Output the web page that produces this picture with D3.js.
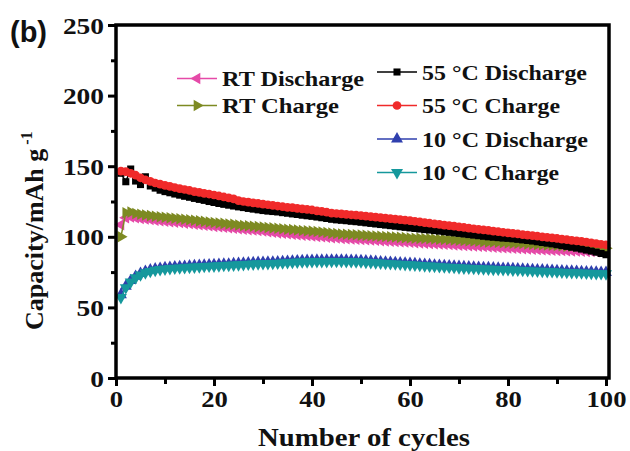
<!DOCTYPE html>
<html>
<head>
<meta charset="utf-8">
<script src="https://cdn.jsdelivr.net/npm/d3@7"></script>
<style>
  body { margin: 0; background: #fff; }
  text { font-family: "Liberation Serif", "Times New Roman", serif; font-weight: bold; }
</style>
</head>
<body>
<div id="chart"></div>
<script>
// cycle number 1..100
const cycles = d3.range(1, 101);

const rtDischarge = [
  108.5, 113.5, 114.0, 113.5, 113.0, 112.6, 112.2, 111.8, 111.4, 111.0,
  110.7, 110.4, 110.1, 109.7, 109.4, 109.0, 108.6, 108.2, 107.8, 107.4,
  107.1, 106.8, 106.4, 106.1, 105.7, 105.3, 105.1, 104.8, 104.5, 104.2,
  103.6, 103.2, 102.8, 102.5, 102.1, 101.8, 101.5, 101.2, 100.9, 100.6,
  100.3, 100.0, 99.7, 99.4, 99.1, 98.9, 98.7, 98.5, 98.3, 98.1,
  97.9, 97.7, 97.5, 97.3, 97.1, 96.9, 96.7, 96.5, 96.3, 96.1,
  95.9, 95.7, 95.5, 95.3, 95.1, 94.9, 94.7, 94.5, 94.3, 94.1,
  93.9, 93.7, 93.5, 93.3, 93.1, 92.9, 92.7, 92.5, 92.3, 92.1,
  91.9, 91.7, 91.5, 91.3, 91.2, 91.0, 90.8, 90.7, 90.5, 90.4,
  90.3, 90.1, 90.0, 89.9, 89.8, 89.7, 89.6, 89.5, 89.4, 89.3
];

const rtCharge = [
  100.0, 117.0, 117.5, 116.5, 116.0, 115.4, 115.0, 114.6, 114.2, 113.8,
  113.5, 113.1, 112.8, 112.4, 112.1, 111.7, 111.3, 110.9, 110.5, 110.1,
  109.8, 109.5, 109.1, 108.8, 108.4, 108.0, 107.8, 107.5, 107.2, 106.9,
  106.6, 106.3, 106.0, 105.7, 105.4, 105.1, 104.8, 104.5, 104.2, 104.0,
  103.7, 103.4, 103.0, 102.6, 102.3, 102.0, 101.8, 101.6, 101.4, 101.2,
  101.0, 100.8, 100.6, 100.4, 100.2, 100.0, 99.8, 99.6, 99.4, 99.2,
  99.0, 98.9, 98.8, 98.7, 98.5, 98.3, 98.2, 98.0, 97.8, 97.6,
  97.4, 97.2, 97.0, 96.8, 96.6, 96.4, 96.3, 96.1, 95.9, 95.7,
  95.5, 95.4, 95.2, 95.0, 94.8, 94.6, 94.4, 94.2, 94.0, 93.8,
  93.6, 93.4, 93.3, 93.1, 92.9, 92.7, 92.5, 92.3, 92.1, 91.9
];

const hotDischarge = [
  145.0, 139.0, 148.0, 139.5, 137.0, 142.5, 136.0, 134.5, 133.0, 132.0,
  131.2, 130.3, 129.5, 128.7, 128.0, 127.2, 126.5, 125.8, 125.0, 124.3,
  123.6, 123.0, 122.4, 121.8, 121.2, 120.7, 120.1, 119.6, 119.1, 118.6,
  118.2, 117.9, 117.6, 117.1, 116.7, 116.2, 115.8, 115.3, 114.9, 114.5,
  114.0, 113.5, 113.0, 112.4, 112.0, 111.7, 111.4, 111.0, 110.7, 110.3,
  109.9, 109.5, 109.1, 108.7, 108.3, 107.9, 107.5, 107.1, 106.7, 106.3,
  105.9, 105.5, 105.1, 104.8, 104.4, 104.0, 103.6, 103.2, 102.8, 102.4,
  102.0, 101.6, 101.2, 100.8, 100.4, 100.0, 99.7, 99.4, 99.1, 98.9,
  98.6, 98.2, 97.8, 97.4, 97.0, 96.5, 96.0, 95.5, 95.0, 94.4,
  93.8, 93.2, 92.6, 92.0, 91.3, 90.6, 89.9, 89.1, 88.2, 87.3
];

const hotCharge = [
  146.5, 146.2, 145.0, 143.6, 141.8, 140.4, 139.2, 138.1, 137.3, 136.4,
  135.7, 134.9, 134.1, 133.5, 132.8, 132.0, 131.5, 130.8, 130.3, 129.6,
  128.9, 128.2, 127.6, 126.9, 125.6, 125.0, 124.6, 124.0, 123.6, 123.1,
  122.7, 122.2, 121.8, 121.3, 120.9, 120.6, 120.1, 119.8, 119.4, 119.0,
  118.4, 118.0, 117.4, 116.8, 116.5, 116.2, 115.9, 115.6, 115.3, 115.0,
  114.6, 114.3, 113.9, 113.6, 113.2, 112.9, 112.5, 112.2, 111.8, 111.4,
  111.0, 110.6, 110.1, 109.6, 109.2, 108.8, 108.3, 107.9, 107.5, 107.0,
  106.6, 106.2, 105.7, 105.3, 104.9, 104.5, 104.0, 103.6, 103.2, 102.8,
  102.4, 102.0, 101.6, 101.2, 100.8, 100.4, 100.0, 99.6, 99.2, 98.8,
  98.4, 98.0, 97.5, 97.1, 96.7, 96.2, 95.7, 95.2, 94.7, 94.2
];

const coldDischarge = [
  59.0, 65.0, 69.0, 72.0, 74.0, 75.5, 76.5, 77.2, 77.7, 78.1,
  78.4, 78.7, 78.9, 79.1, 79.3, 79.5, 79.7, 79.9, 80.1, 80.2,
  80.4, 80.6, 80.7, 80.9, 81.1, 81.3, 81.5, 81.6, 81.8, 81.9,
  82.0, 82.1, 82.2, 82.4, 82.6, 82.8, 83.0, 83.1, 83.2, 83.3,
  83.4, 83.4, 83.4, 83.5, 83.5, 83.5, 83.4, 83.3, 83.2, 83.1,
  82.9, 82.7, 82.5, 82.3, 82.1, 81.9, 81.7, 81.5, 81.3, 81.1,
  80.9, 80.6, 80.4, 80.2, 80.0, 79.8, 79.6, 79.4, 79.2, 79.0,
  78.8, 78.7, 78.5, 78.4, 78.2, 78.1, 77.9, 77.8, 77.7, 77.6,
  77.4, 77.3, 77.1, 76.9, 76.8, 76.6, 76.5, 76.3, 76.2, 76.0,
  75.9, 75.7, 75.6, 75.5, 75.3, 75.2, 75.1, 74.9, 74.8, 74.7
];

const coldCharge = [
  57.0, 64.0, 68.0, 71.0, 73.0, 74.5, 75.5, 76.3, 76.8, 77.2,
  77.5, 77.8, 78.0, 78.2, 78.4, 78.6, 78.8, 79.0, 79.2, 79.3,
  79.5, 79.7, 79.8, 80.0, 80.2, 80.4, 80.6, 80.7, 80.9, 81.0,
  81.1, 81.2, 81.3, 81.5, 81.7, 81.9, 82.1, 82.2, 82.3, 82.4,
  82.5, 82.5, 82.5, 82.6, 82.6, 82.6, 82.5, 82.4, 82.3, 82.2,
  82.0, 81.8, 81.6, 81.4, 81.2, 81.0, 80.8, 80.6, 80.4, 80.2,
  80.0, 79.7, 79.5, 79.3, 79.1, 78.9, 78.7, 78.5, 78.3, 78.1,
  77.9, 77.8, 77.6, 77.5, 77.3, 77.2, 77.0, 76.9, 76.8, 76.7,
  76.5, 76.4, 76.2, 76.0, 75.9, 75.7, 75.6, 75.4, 75.3, 75.1,
  75.0, 74.8, 74.7, 74.6, 74.4, 74.3, 74.2, 74.0, 73.9, 73.8
];

const xTicks = [0, 20, 40, 60, 80, 100];
const yTicks = [0, 50, 100, 150, 200, 250];

const series = [
  { name: "RT Discharge", values: rtDischarge, color: "#e54aa8", shape: "left" },
  { name: "RT Charge", values: rtCharge, color: "#7d8a22", shape: "right" },
  { name: "55 °C Discharge", values: hotDischarge, color: "#000000", shape: "square" },
  { name: "55 °C Charge", values: hotCharge, color: "#f02a2a", shape: "circle" },
  { name: "10 °C Discharge", values: coldDischarge, color: "#2f3fae", shape: "up" },
  { name: "10 °C Charge", values: coldCharge, color: "#15989c", shape: "down" }
];

const width = 630, height = 451;
const svg = d3.select("#chart").append("svg")
  .attr("width", width)
  .attr("height", height);

const x = d3.scaleLinear().domain([0, 100]).range([116, 606]);
const y = d3.scaleLinear().domain([0, 250]).range([378, 25]);
const plotRight = 609;

function marker(shape) {
  const s = {
    circle: [d3.symbolCircle, 60, 0],
    square: [d3.symbolSquare, 50, 0],
    up: [d3.symbolTriangle, 62, 0],
    down: [d3.symbolTriangle, 62, 180],
    left: [d3.symbolTriangle, 58, -90],
    right: [d3.symbolTriangle, 58, 90]
  }[shape];
  return { path: d3.symbol().type(s[0]).size(s[1])(), rot: s[2] };
}

const line = d3.line().x((d, i) => x(cycles[i])).y(d => y(d));

const plot = svg.append("g");
series.forEach(s => {
  const g = plot.append("g");
  g.append("path")
    .attr("d", line(s.values))
    .attr("fill", "none")
    .attr("stroke", s.color)
    .attr("stroke-width", 1.5);
  const m = marker(s.shape);
  g.selectAll("path.pt")
    .data(s.values)
    .join("path")
    .attr("class", "pt")
    .attr("d", m.path)
    .attr("transform", (d, i) => `translate(${x(cycles[i])},${y(d)}) rotate(${m.rot})`)
    .attr("fill", s.color);
});

// frame
svg.append("rect")
  .attr("x", x(0))
  .attr("y", y(250))
  .attr("width", plotRight - x(0))
  .attr("height", y(0) - y(250))
  .attr("fill", "none")
  .attr("stroke", "#000")
  .attr("stroke-width", 3.5);

// axes
const xAxis = svg.append("g")
  .attr("transform", `translate(0,${y(0)})`)
  .call(d3.axisBottom(x).tickValues(xTicks).tickSize(8).tickPadding(6));
const xMinor = svg.append("g")
  .attr("transform", `translate(0,${y(0)})`)
  .call(d3.axisBottom(x).tickValues([10, 30, 50, 70, 90]).tickSize(6).tickFormat(""));
const yAxis = svg.append("g")
  .attr("transform", `translate(${x(0)},0)`)
  .call(d3.axisLeft(y).tickValues(yTicks).tickSize(8).tickPadding(5));
const yMinor = svg.append("g")
  .attr("transform", `translate(${x(0)},0)`)
  .call(d3.axisLeft(y).tickValues([25, 75, 125, 175, 225]).tickSize(5).tickFormat(""));

[xAxis, xMinor, yAxis, yMinor].forEach(a => {
  a.select(".domain").remove();
  a.selectAll("line").attr("stroke", "#000").attr("stroke-width", 3);
});

xAxis.selectAll("text")
  .style("font-size", "24px")
  .attr("fill", "#111")
  .attr("dy", "0.62em")
  .attr("textLength", d => String(d).length * 13.3)
  .attr("lengthAdjust", "spacingAndGlyphs");

yAxis.selectAll("text")
  .style("font-size", "24px")
  .attr("fill", "#111")
  .attr("x", -12)
  .attr("dy", "0.34em")
  .attr("textLength", d => String(d).length * 13.7)
  .attr("lengthAdjust", "spacingAndGlyphs");

// axis titles
svg.append("text")
  .attr("x", 364)
  .attr("y", 446)
  .attr("text-anchor", "middle")
  .style("font-size", "26px")
  .attr("fill", "#111")
  .attr("textLength", 212)
  .attr("lengthAdjust", "spacingAndGlyphs")
  .text("Number of cycles");

const yt = svg.append("text")
  .attr("transform", "translate(43,330) rotate(-90)")
  .style("font-size", "26px")
  .attr("fill", "#111");
yt.append("tspan").text("Capacity/mAh g");
yt.append("tspan").attr("dx", 4).attr("dy", -11).style("font-size", "16px").text("-1");

// panel label
svg.append("text")
  .attr("x", 10)
  .attr("y", 42)
  .style("font-family", "'Liberation Sans', Arial, sans-serif")
  .style("font-size", "29px")
  .attr("fill", "#111")
  .text("(b)");

// legend
const legendRows = [
  { s: series[0], lx: 177, cy: 78.5, w: 142 },
  { s: series[1], lx: 177, cy: 105.5, w: 117 },
  { s: series[2], lx: 377, cy: 72, w: 165 },
  { s: series[3], lx: 377, cy: 105.5, w: 138 },
  { s: series[4], lx: 377, cy: 139, w: 166 },
  { s: series[5], lx: 377, cy: 172.5, w: 137 }
];

const legend = svg.append("g");
legendRows.forEach(r => {
  const g = legend.append("g");
  g.append("line")
    .attr("x1", r.lx).attr("x2", r.lx + 40)
    .attr("y1", r.cy).attr("y2", r.cy)
    .attr("stroke", r.s.color)
    .attr("stroke-width", 1.5);
  const m = marker(r.s.shape);
  g.append("path")
    .attr("d", m.path)
    .attr("transform", `translate(${r.lx + 20},${r.cy}) rotate(${m.rot})`)
    .attr("fill", r.s.color);
  g.append("text")
    .attr("x", r.lx + 45)
    .attr("y", r.cy + 7.5)
    .style("font-size", "21px")
    .attr("fill", "#111")
    .attr("textLength", r.w)
    .attr("lengthAdjust", "spacingAndGlyphs")
    .text(r.s.name);
});
</script>
</body>
</html>
